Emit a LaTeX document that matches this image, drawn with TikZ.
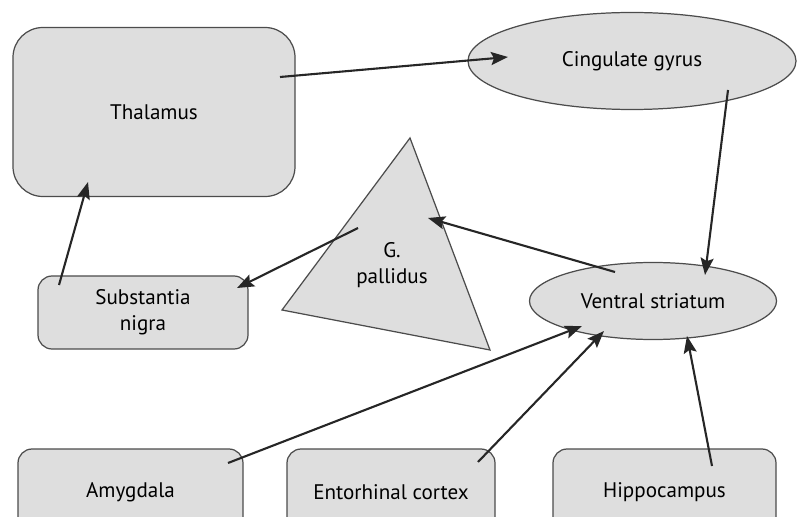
\documentclass[tikz,border=0pt]{standalone}
\usepackage{fontspec}
\setmainfont{PT Sans}
\usetikzlibrary{
    shapes,
    shapes.geometric,
    positioning,
    calc,
    arrows.meta
}
\tikzset{
  basic/.style = {
      draw=black!70,
      line width=0.7pt,
      fill=black!13,
      align=center,
      font=\fontsize{12}{15}\selectfont,
      inner sep=0pt
  },
  round/.style = {
    basic,
    rectangle,
    rounded corners=8pt
  },
  oval/.style = {
    basic,
    ellipse
  },
  plain/.style = {
      draw=none,
      fill=none
  },
  link/.style = {
      draw=black!85,
      line width=1.2pt,
      -{Stealth[length=3.4mm,width=2.6mm,inset=0.6mm]}
  }
}
\begin{document}
\begin{tikzpicture}
        \path[use as bounding box, clip] (0,0) rectangle (16.02,-10.34);
        % Nodes
        \node[round, rounded corners=17pt, minimum width=5.64cm, minimum height=3.38cm] (thal) at (3.08,-2.24) {Thalamus};
        \node[oval, minimum width=6.56cm, minimum height=1.94cm] (cing) at (12.64,-1.22) {Cingulate gyrus};
        \node[oval, minimum width=4.94cm, minimum height=1.54cm] (vent) at (13.06,-6.02) {Ventral striatum};
        \node[round, minimum width=4.2cm, minimum height=1.46cm] (subs) at (2.86,-6.25) {Substantia\\nigra};
        \node[round, minimum width=4.5cm, minimum height=1.72cm] (amyg) at (2.61,-9.84) {Amygdala};
        \node[round, minimum width=4.16cm, minimum height=1.72cm] (ento) at (7.82,-9.84) {Entorhinal cortex};
        \node[round, minimum width=4.46cm, minimum height=1.72cm] (hipp) at (13.29,-9.84) {Hippocampus};
        % G. pallidus
        \coordinate (top) at (8.20,-2.76);
        \coordinate (left) at (5.64,-6.20);
        \coordinate (right) at (9.80,-7.00);
        \draw[basic] (top) -- (left) -- (right) -- cycle;
        \node[basic, plain] (pall) at (7.84,-5.30) {G.\\pallidus};
        % Edges
        \path[every edge/.style={link}]
        ($(thal.center)+(2.52,0.70)$) edge ($(cing.center)+(-2.48,0.08)$)
        ($(cing.center)+(1.92,-0.58)$) edge ($(vent.center)+(1.04,0.52)$)
        ($(vent.center)+(-0.76,0.58)$) edge ($(pall.center)+(0.72,0.94)$)
        ($(pall.center)+(-0.68,0.74)$) edge ($(subs.center)+(1.88,0.49)$)
        ($(subs.center)+(-1.68,0.55)$) edge ($(thal.center)+(-1.32,-1.40)$)
        ($(amyg.center)+(1.95,0.58)$) edge ($(vent.center)+(-1.42,-0.50)$)
        ($(ento.center)+(1.74,0.60)$) edge ($(vent.center)+(-0.98,-0.60)$)
        ($(hipp.center)+(0.95,0.52)$) edge ($(vent.center)+(0.68,-0.70)$);
    \end{tikzpicture}
\end{document}
